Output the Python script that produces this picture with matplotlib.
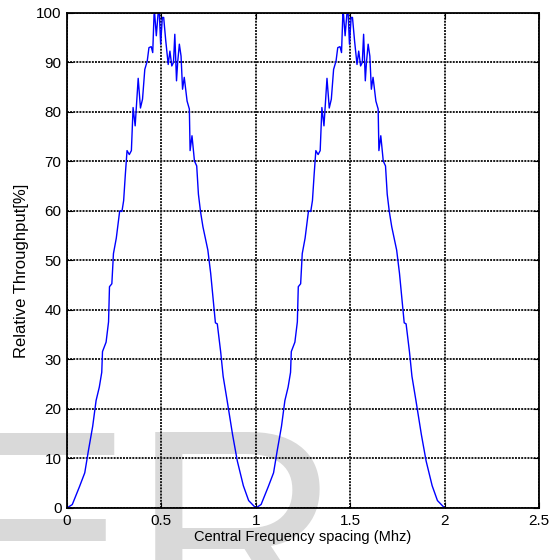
import numpy as np
import matplotlib.pyplot as plt

plt.rcParams['font.family'] = ['Liberation Sans', 'DejaVu Sans']

spacing = [0.0, 0.028, 0.066, 0.094, 0.113, 0.136, 0.154, 0.171, 0.184, 0.188,
           0.207, 0.220, 0.225, 0.2375, 0.246, 0.261, 0.279, 0.291, 0.300, 0.309,
           0.318, 0.330, 0.341, 0.350, 0.361, 0.377, 0.389, 0.400, 0.412, 0.425,
           0.434, 0.446, 0.454, 0.461, 0.464, 0.473, 0.482, 0.489, 0.496, 0.505,
           0.512, 0.523, 0.536, 0.545, 0.555, 0.564, 0.571, 0.580, 0.586, 0.595,
           0.604, 0.612, 0.621, 0.636, 0.648, 0.652, 0.662, 0.675, 0.687, 0.696,
           0.707, 0.720, 0.746, 0.761, 0.786, 0.796, 0.814, 0.827, 0.849, 0.877,
           0.902, 0.934, 0.962, 1.0]
throughput = [0.0, 0.7, 4.3, 7.1, 11.5, 16.5, 21.7, 24.4, 27.4, 31.6,
              33.5, 37.6, 44.7, 45.3, 51.4, 54.5, 60.0, 59.9, 62.1, 67.4,
              72.2, 71.4, 72.2, 80.9, 77.2, 86.8, 80.8, 82.6, 88.6, 90.3,
              93.0, 93.2, 92.0, 99.7, 100.0, 95.4, 99.7, 100.0, 93.7, 99.1,
              99.1, 94.4, 89.6, 92.3, 89.3, 90.0, 95.7, 86.3, 90.0, 93.7,
              91.3, 84.6, 87.0, 82.2, 80.6, 72.2, 75.2, 70.1, 69.1, 63.4,
              59.9, 56.8, 52.1, 47.4, 37.4, 37.2, 31.5, 26.6, 21.5, 14.8,
              9.5, 4.5, 1.5, 0.0]

x_ticks = [0, 0.5, 1, 1.5, 2, 2.5]
y_ticks = [0, 10, 20, 30, 40, 50, 60, 70, 80, 90, 100]

# the second lobe repeats the first one, shifted by 1 MHz
x = np.concatenate([spacing, np.array(spacing[1:]) + 1])
y = np.concatenate([throughput, throughput[1:]])

fig = plt.figure(figsize=(5.57, 5.60), dpi=100)
ax = fig.add_axes([0.1203, 0.0929, 0.8474, 0.8839])
ax.set_facecolor('none')

# watermark behind the plot
fig.text(-0.11, -0.128, 'ER', fontsize=209, color='#d9d9d9', zorder=-1,
         family='Liberation Sans')

ax.plot(x, y, color='#0000ff', linewidth=1.0)
ax.set_xlim(0, 2.5)
ax.set_ylim(0, 100)
ax.set_xticks(x_ticks)
ax.set_xticklabels(['0', '0.5', '1', '1.5', '2', '2.5'])
ax.set_yticks(y_ticks)
ax.grid(True, color='#1a1a1a', linestyle=(0, (1, 0.6)), linewidth=1.4)
ax.tick_params(direction='in', top=True, right=True, length=4, labelsize=11,
               pad=4)
for s in ax.spines.values():
    s.set_linewidth(1.3)
ax.set_xlabel('Central Frequency spacing (Mhz)', fontsize=10.5, labelpad=2)
ax.set_ylabel('Relative Throughput[%]', fontsize=12)
ax.yaxis.set_label_coords(-0.081, 0.48)

fig.savefig('out.png', dpi=100)
